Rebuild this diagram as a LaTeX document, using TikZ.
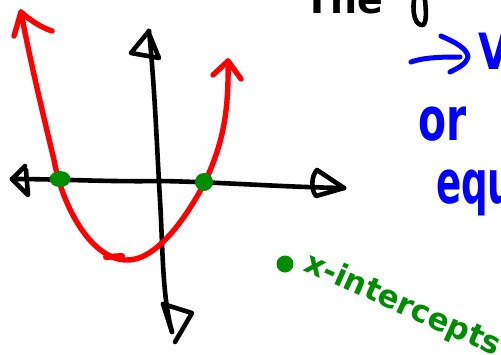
\documentclass[tikz,border=0pt]{standalone}
\usetikzlibrary{shapes.geometric}
\usepackage{fontspec}
\setmainfont{DejaVu Sans}
\definecolor{pred}{RGB}{255,0,0}
\definecolor{pgreen}{RGB}{0,140,0}
\definecolor{pblue}{RGB}{0,0,255}
\tikzset{
  ink/.style={line width=#1,line cap=round,line join=round},
  ink/.default=4pt,
  redink/.style={ink=5.4pt,draw=pred},
  blackink/.style={ink=4.6pt,draw=black},
  blueink/.style={ink=5pt,draw=pblue},
  label/.style={inner sep=0pt,anchor=base west}
}
\begin{document}
\begin{tikzpicture}[x=1pt,y=-1pt]
\useasboundingbox (0,0) rectangle (501,354);
\clip (0,0) rectangle (501,354);
\coordinate (rs) at (21,12);
\coordinate (re) at (228,61);
% axes
\coordinate (vt) at (149,31);
\coordinate (vb) at (172,332);
\coordinate (hl) at (12,179);
\coordinate (hr) at (344,188);
\draw[blackink] (vt) .. controls (155,90) and (157,150) .. (160,200) .. controls (163,250) and (162,295) .. (vb);
\draw[blackink] (vt) -- (131,53) -- (159,58) -- (150,36);
\draw[blackink] (163,304) -- (192,313) -- (175,342);
\draw[blackink] (163,304) -- (vb);
\draw[blackink] (hl) .. controls (60,179) and (110,182) .. (160,181) .. controls (220,182) and (280,187) .. (hr);
\draw[blackink] (25,166) -- (hl) -- (28,195) -- (26,170);
\draw[blackink] (hr) -- (317,170) .. controls (311,176) and (311,190) .. (316,196) -- (hr);
% parabola
\draw[redink] (rs) .. controls (30,60) and (42,110) .. (54,160) .. controls (62,205) and (90,258) .. (125,260) .. controls (155,262) and (185,220) .. (205,182) .. controls (222,145) and (229,115) .. (re);
\draw[redink] (14,36) -- (rs) .. controls (30,20) and (40,27) .. (52,31);
\draw[redink] (213,75) -- (re) -- (241,79);
\draw[redink,line width=6pt] (106,257) -- (122,256);
% intercept dots
\node[fill=pgreen,ellipse,inner sep=0pt,minimum width=21pt,minimum height=16pt] (d1) at (60,179) {};
\node[fill=pgreen,circle,inner sep=0pt,minimum size=18pt] (d2) at (204,182) {};
\node[fill=pgreen,circle,inner sep=0pt,minimum size=17pt] (d3) at (285,264) {};
% legend
\node[label,rotate=-24,text=pgreen,font=\bfseries\fontsize{31}{31}\selectfont] (xi) at (302,270) {x-intercepts};
% top black text
\node[label,font=\bfseries\fontsize{40}{40}\selectfont,xscale=.95] (the) at (304,13) {The};
\draw[blackink] (414,0) .. controls (412,15) and (416,26) .. (423,25) .. controls (427,22) and (426,10) .. (425,0);
% blue
\draw[blueink] (411,62) .. controls (425,57) and (445,57) .. (460,57);
\draw[blueink] (441,36) .. controls (455,42) and (466,48) .. (468,56) .. controls (467,64) and (458,68) .. (450,72);
\node[label,text=pblue,font=\bfseries\fontsize{50}{50}\selectfont,xscale=.8] (v) at (478,69) {V};
\node[label,text=pblue,font=\bfseries\fontsize{60}{60}\selectfont,xscale=.68] (or) at (418,140) {or};
\node[label,text=pblue,font=\bfseries\fontsize{60}{60}\selectfont,xscale=.62] (eq) at (436,203) {equ};
\end{tikzpicture}
\end{document}
